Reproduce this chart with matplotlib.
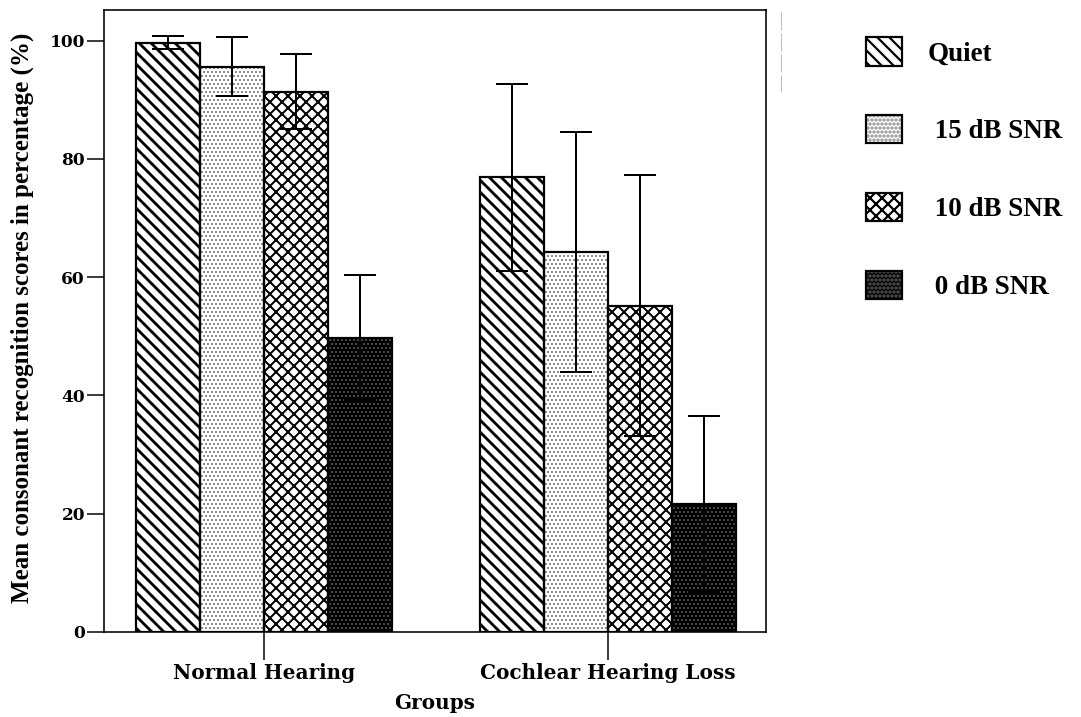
import numpy as np
import matplotlib
matplotlib.use('Agg')
from matplotlib import pyplot as plt
from matplotlib.lines import Line2D

groups = ['Normal Hearing', 'Cochlear Hearing Loss']
conditions = ['Quiet', ' 15 dB SNR', ' 10 dB SNR', ' 0 dB SNR']

quiet = [99.7, 76.9]
snr15 = [95.6, 64.2]
snr10 = [91.4, 55.2]
snr0 = [49.8, 21.6]

quiet_err = [1.1, 15.8]
snr15_err = [5.0, 20.3]
snr10_err = [6.4, 22.1]
snr0_err = [10.5, 14.9]

means = [quiet, snr15, snr10, snr0]
errs = [quiet_err, snr15_err, snr10_err, snr0_err]

# hatch, face, hatch colour, hatch width
styles = [('\\\\', 'white', 'black', 2.8),
          ('...', 'white', '#7a7a7a', 1.3),
          ('xx', 'white', 'black', 2.0),
          ('...', 'black', '#6a6a6a', 1.0)]

plt.rcParams['hatch.linewidth'] = 2.2
tick_font = {'family': 'DejaVu Serif', 'weight': 'bold'}

fig = plt.figure(figsize=(1081/72, 717/72), dpi=72)
ax = fig.add_axes([104/1081, 85/717, 662/1081, 622/717])

x = np.arange(len(groups))
w = 0.186
handles = []
for i in range(4):
    pos = x + (i - 1.5) * w
    h, fc, hc, hw = styles[i]
    with plt.rc_context({'hatch.linewidth': hw}):
        b1 = ax.bar(pos, means[i], w, color=fc, edgecolor=hc, hatch=h, linewidth=0, zorder=2)
    for p in b1:
        if hasattr(p, 'set_hatch_linewidth'):
            p.set_hatch_linewidth(hw)
    b2 = ax.bar(pos, means[i], w, fill=False, edgecolor='black', linewidth=2.2, zorder=3)
    ax.errorbar(pos, means[i], yerr=errs[i], fmt='none', ecolor='black',
                elinewidth=2, capsize=16, capthick=2, zorder=4)
    handles.append((b1[0], b2[0]))

ax.set_xlim(-0.465, 1.459)
ax.set_ylim(0, 105.2)
ax.set_yticks([0, 20, 40, 60, 80, 100])
ax.set_xticks(x)
ax.set_xticklabels(groups, fontdict=tick_font, fontsize=20)
for t in ax.get_yticklabels():
    t.set_family('DejaVu Serif')
    t.set_weight('bold')
    t.set_fontsize(17)
ax.tick_params(axis='y', length=17, width=1.5, pad=2)
ax.tick_params(axis='x', length=28, width=1.5, pad=3)
for s in ax.spines.values():
    s.set_linewidth(1.6)

ax.set_xlabel('Groups', fontdict=tick_font, fontsize=20)
ax.xaxis.set_label_coords(0.5, -0.098)
ax.set_ylabel('Mean consonant recognition scores in percentage (%)',
              family='Liberation Serif', weight='bold', fontsize=25)
ax.yaxis.set_label_coords(-0.106, 0.505)

fig.legend(handles, conditions, loc='upper left', bbox_to_anchor=(852/1081, 1 - 24/717),
           frameon=False, prop={'family': 'Liberation Serif', 'weight': 'bold', 'size': 27},
           handlelength=1.35, handleheight=1.22, handletextpad=0.95, labelspacing=1.8,
           borderpad=0)

fig.add_artist(Line2D([781/1081, 781/1081], [1 - 12/717, 1 - 92/717], color='#bbbbbb',
                      linewidth=1, linestyle=(0, (18, 3))))

fig.savefig('out.png', dpi=72)
